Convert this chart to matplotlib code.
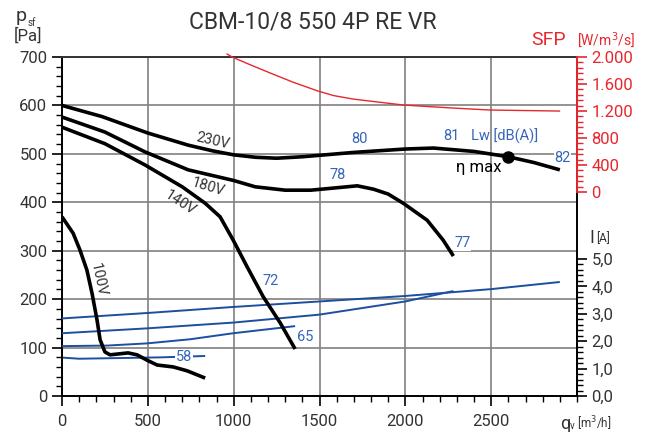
import numpy as np
import matplotlib
matplotlib.use('Agg')
import matplotlib.pyplot as plt
from matplotlib.ticker import MultipleLocator, FixedLocator, FuncFormatter

plt.rcParams['font.family'] = ['Roboto', 'DejaVu Sans']

# ---- data --------------------------------------------------------------------
# pressure curves p_sf [Pa] vs qv [m3/h]
q230 = [0, 233, 500, 735, 880, 1000, 1125, 1250, 1400, 1700, 2000, 2163, 2400, 2600, 2750, 2900]
p230 = [600, 577, 543, 518, 506, 498, 493, 491, 494, 503, 510, 512, 505, 494, 482, 467]
q180 = [0, 250, 484, 735, 1000, 1125, 1300, 1450, 1600, 1720, 1815, 1900, 1988, 2127, 2220, 2280]
p180 = [576, 545, 504, 467, 445, 432, 425, 425, 430, 434, 427, 417, 398, 363, 322, 289]
q140 = [0, 250, 484, 700, 834, 921, 997, 1078, 1172, 1271, 1358]
p140 = [555, 521, 477, 432, 398, 370, 322, 267, 205, 151, 97]
q100 = [0, 65, 105, 145, 175, 204, 222, 250, 280, 385, 437, 495, 554, 648, 729, 834]
p100 = [370, 336, 301, 260, 212, 157, 116, 91, 85, 89, 85, 74, 64, 60, 52, 37]

# current I [A]
qi230 = [0, 500, 1000, 1500, 2000, 2500, 2900]
i230 = [2.83, 3.03, 3.25, 3.45, 3.65, 3.90, 4.16]
qi180 = [0, 500, 1000, 1500, 2000, 2280]
i180 = [2.29, 2.47, 2.68, 2.97, 3.45, 3.83]
qi140 = [0, 262, 496, 746, 997, 1358]
i140 = [1.82, 1.84, 1.92, 2.07, 2.29, 2.55]
qi100 = [6, 99, 385, 575, 834]
i100 = [1.40, 1.36, 1.39, 1.41, 1.46]

# specific fan power SFP [W/m3/s]
qsfp = [962, 991, 1100, 1213, 1348, 1487, 1580, 1697, 1988, 2280, 2495, 2898]
sfp = [2044, 2000, 1881, 1763, 1625, 1500, 1430, 1377, 1289, 1244, 1215, 1200]

eta_q, eta_p = 2600, 494

# curve labels: text, q, p, rotation
volt_labels = [('230V', 880, 526, -13), ('180V', 850, 432, -17),
               ('140V', 690, 398, -33), ('100V', 210, 240, -78)]
lw_labels = [('58', 711, 80), ('65', 1417, 122), ('72', 1213, 237), ('77', 2332, 316),
             ('78', 1603, 456), ('80', 1731, 531), ('82', 2915, 491)]

BLUE = '#1c4f9e'; BLUE_T = '#3565b8'; RED = '#e8262d'; TXT = '#333333'; GRID = '#808080'

fig = plt.figure(figsize=(6.54, 4.32), dpi=100)
ax = fig.add_axes([62/654, 1-396/432, 515/654, 339/432])
ax.set_xlim(0, 3000); ax.set_ylim(0, 700)
ax.set_xticks(np.arange(0, 3000, 500)); ax.xaxis.set_minor_locator(MultipleLocator(100))
ax.set_yticks(np.arange(0, 701, 100)); ax.yaxis.set_minor_locator(MultipleLocator(20))
ax.grid(True, which='major', color=GRID, lw=1.2)
ax.tick_params(which='major', length=7, width=1.2, colors='k', labelcolor=TXT, labelsize=12, direction='out')
ax.tick_params(which='minor', length=4, width=1.0, colors='k', direction='out')
ax.tick_params(axis='x', pad=6)
for s in ('left', 'bottom', 'right'):
    ax.spines[s].set_linewidth(1.4)
ax.spines['top'].set_color('#333333'); ax.spines['top'].set_linewidth(1.4)

# current axis
ax_i = ax.twinx()
ax_i.set_ylim(0, 12.37)
ax_i.set_yticks(np.arange(0, 5.01, 1.0))
ax_i.yaxis.set_minor_locator(FixedLocator(np.arange(0, 5.01, 0.2)))
ax_i.yaxis.set_major_formatter(FuncFormatter(lambda v, p: f'{v:.1f}'.replace('.', ',')))
ax_i.spines['right'].set_bounds(0, 5)
ax_i.spines['right'].set_linewidth(1.4)
for s in ('left', 'top', 'bottom'):
    ax_i.spines[s].set_visible(False)
ax_i.tick_params(which='major', length=7, width=1.2, colors='k', labelcolor=TXT, labelsize=12)
ax_i.tick_params(which='minor', length=4, width=1.0, colors='k')

for q, i in ((qi230, i230), (qi180, i180), (qi140, i140), (qi100, i100)):
    ax_i.plot(q, i, color=BLUE, lw=1.4, solid_capstyle='butt', solid_joinstyle='round')

# SFP axis
ax_s = ax.twinx()
ax_s.set_ylim(-3018, 2000)
ax_s.set_yticks(np.arange(0, 2001, 400))
ax_s.yaxis.set_minor_locator(FixedLocator(np.arange(0, 2001, 80)))
ax_s.yaxis.set_major_formatter(FuncFormatter(lambda v, p: f'{v:,.0f}'.replace(',', '.')))
ax_s.spines['right'].set_bounds(0, 2000)
ax_s.spines['right'].set_color(RED); ax_s.spines['right'].set_linewidth(1.4)
for s in ('left', 'top', 'bottom'):
    ax_s.spines[s].set_visible(False)
ax_s.tick_params(which='major', length=7, width=1.2, colors=RED, labelcolor=RED, labelsize=12)
ax_s.tick_params(which='minor', length=4, width=1.0, colors=RED)
ax_s.plot(qsfp, sfp, color=RED, lw=1.0, clip_on=False, solid_joinstyle='round')

# pressure curves on top, in Pa coordinates
tp = ax.transData
for q, p in ((q230, p230), (q180, p180), (q140, p140), (q100, p100)):
    ax_s.plot(q, p, color='k', lw=2.6, transform=tp, solid_capstyle='butt', solid_joinstyle='round')
ax_s.plot(eta_q, eta_p, 'o', color='k', ms=8, transform=tp)

for s, q, p, r in volt_labels:
    ax_s.text(q, p, s, transform=tp, rotation=r, fontsize=10.5, color=TXT,
              ha='center', va='center', rotation_mode='anchor')
for s, q, p in lw_labels:
    ax_s.text(q, p, s, transform=tp, fontsize=10.5, color=BLUE_T, ha='center', va='center',
              bbox=dict(facecolor='white', edgecolor='none', pad=0.5))
ax_s.text(2220, 537, '81', transform=tp, fontsize=10.5, color=BLUE_T, ha='left', va='center')
ax_s.text(2380, 537, 'Lw [dB(A)]', transform=tp, fontsize=10.5, color=BLUE_T, ha='left', va='center')
ax_s.text(2425, 471, 'η max', transform=tp, fontsize=12, color='k', ha='center', va='center')

# titles and axis captions
fig.text(313/654, 1-22/432, 'CBM-10/8 550 4P RE VR', fontsize=16.5, color=TXT, ha='center', va='center')
fig.text(16/654, 1-16/432, 'p', fontsize=14, color=TXT, ha='left', va='center')
fig.text(28/654, 1-23/432, 'sf', fontsize=7, color=TXT, ha='left', va='center')
fig.text(14/654, 1-36/432, '[Pa]', fontsize=12, color=TXT, ha='left', va='center')
fig.text(531/654, 1-40/432, 'SFP', fontsize=14, color=RED, ha='left', va='center')
fig.text(577/654, 1-40/432, '[W/m$^3$/s]', fontsize=10, color=RED, ha='left', va='center')
fig.text(589/654, 1-238/432, 'I', fontsize=13, color=TXT, ha='left', va='center')
fig.text(596/654, 1-239/432, '[A]', fontsize=8.5, color=TXT, ha='left', va='center')
fig.text(560/654, 1-424/432, 'q', fontsize=13, color=TXT, ha='left', va='center')
fig.text(570/654, 1-426/432, 'v', fontsize=7, color=TXT, ha='left', va='center')
fig.text(577/654, 1-424/432, '[m$^3$/h]', fontsize=8.5, color=TXT, ha='left', va='center')

fig.savefig('out.png', dpi=100)
